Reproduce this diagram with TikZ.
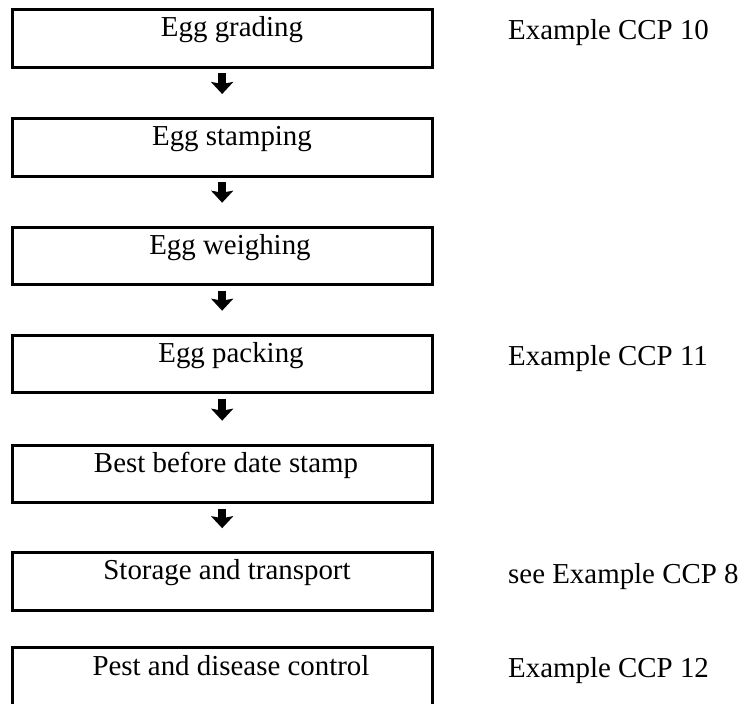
\documentclass[tikz,border=0pt]{standalone}
\usepackage{fontspec}
\setmainfont{Liberation Serif}
\usetikzlibrary{arrows.meta}
\begin{document}
\begin{tikzpicture}[x=1pt,y=-1pt,
  box/.style={draw, line width=3pt, inner sep=0pt, outer sep=0pt, minimum width=420.3pt, minimum height=57.5pt, anchor=north west},
  txt/.style={anchor=base, inner sep=0pt, font=\fontsize{28.9}{34}\selectfont},
  side/.style={anchor=base west, inner sep=0pt, font=\fontsize{28.9}{34}\selectfont},
  flow/.style={line width=8pt, -{Stealth[width=22pt,length=12pt,inset=2pt]}, shorten <=6pt, shorten >=24.5pt}
]
\useasboundingbox (0,0) rectangle (747,704);
\node[box] (b1) at (12,9.5) {};
\node[box] (b2) at (12,118.5) {};
\node[box] (b3) at (12,227.2) {};
\node[box] (b4) at (12,335.2) {};
\node[box] (b5) at (12,445.2) {};
\node[box] (b6) at (12,552.7) {};
\node[box, minimum height=62pt] (b7) at (12,647) {};

\node[txt] (t1) at (232,36) {Egg grading};
\node[txt] (t2) at (232,145) {Egg stamping};
\node[txt] (t3) at (230,254) {Egg weighing};
\node[txt] (t4) at (231,362) {Egg packing};
\node[txt] (t5) at (226,472) {Best before date stamp};
\node[txt] (t6) at (227,579) {Storage and transport};
\node[txt] (t7) at (231,675) {Pest and disease control};

\node[side] (s1) at (508,39.5) {Example CCP 10};
\node[side] (s4) at (508,365) {Example CCP 11};
\node[side] (s6) at (508,583) {see Example CCP 8};
\node[side] (s7) at (508,677) {Example CCP 12};

\draw[flow] (b1.south) -- (b2.north);
\draw[flow] (b2.south) -- (b3.north);
\draw[flow] (b3.south) -- (b4.north);
\draw[flow] (b4.south) -- (b5.north);
\draw[flow] (b5.south) -- (b6.north);
\end{tikzpicture}
\end{document}
